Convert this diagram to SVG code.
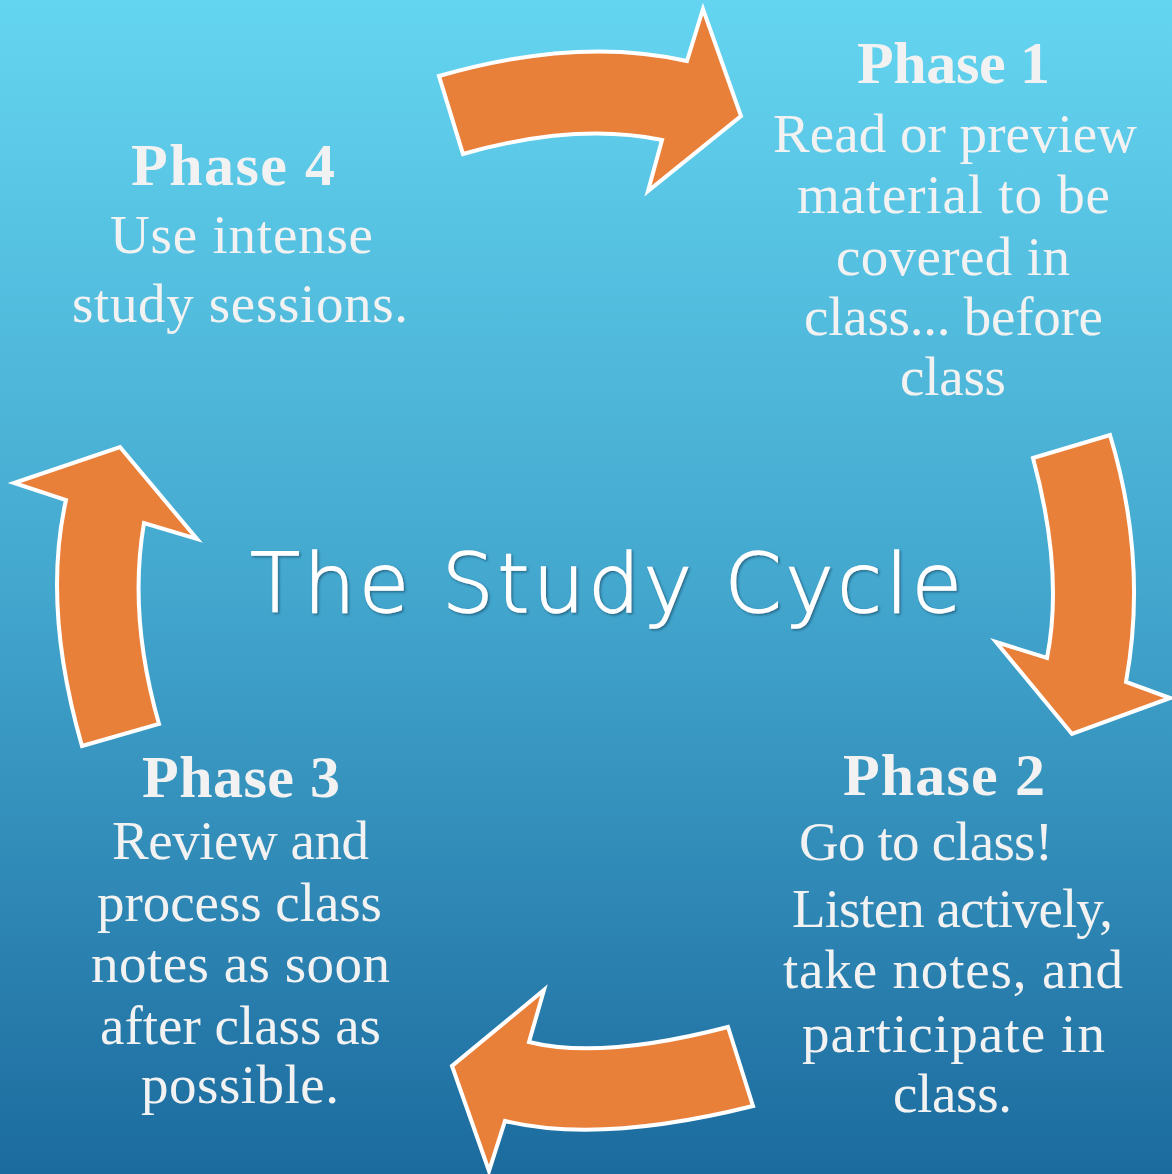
<svg xmlns="http://www.w3.org/2000/svg" width="1172" height="1174" viewBox="0 0 1172 1174">
<defs>
<linearGradient id="bg" x1="0" y1="0" x2="0" y2="1">
<stop offset="0" stop-color="#64d5f0"/>
<stop offset="0.5" stop-color="#43a7ce"/>
<stop offset="1" stop-color="#1c6b9e"/>
</linearGradient>
<filter id="sh" x="-5%" y="-20%" width="110%" height="140%">
<feDropShadow dx="1.5" dy="1.5" stdDeviation="1.2" flood-color="#0a3550" flood-opacity="0.55"/>
</filter>
<style>
.arrow{fill:#e8803a;stroke:#ffffff;stroke-width:4;stroke-linejoin:miter}
.head{font-family:"Liberation Serif","DejaVu Serif",serif;font-weight:bold;font-size:60px;fill:#f2f2f2}
.body{font-family:"Liberation Serif","DejaVu Serif",serif;font-size:55px;fill:#f2f2f2}
.title{font-family:"DejaVu Sans","Liberation Sans",sans-serif;font-weight:200;font-size:82px;fill:#ffffff;stroke:#ffffff;stroke-width:1.3}
</style>
</defs>
<rect width="1172" height="1174" fill="url(#bg)"/>
<g id="connectors">
<path class="arrow" d="M439,76 Q578,36 687,61 L703,9 L741,116 L648,191 L662,140 Q575,122 463,154 Z"/>
<path class="arrow" d="M1033,458 L1110,435 Q1148,561 1126,682 L1170,698 L1072,734 L996,642 L1047,658 Q1064,572 1033,458 Z"/>
<path class="arrow" d="M728,1027 L753,1106 Q601,1144 505,1121 L489,1171 L452,1066 L544,990 L529,1042 Q601,1060 728,1027 Z"/>
<path class="arrow" d="M82,746 L159,724 Q128,616 144,523 L197,539 L120,447 L14,483 L66,500 Q42,607 82,746 Z"/>
</g>
<g id="title">
<text class="title" x="250" y="612" textLength="712" lengthAdjust="spacing" filter="url(#sh)">The Study Cycle</text>
</g>
<g id="phase1">
<text class="head" x="857" y="83" textLength="193" lengthAdjust="spacing">Phase 1</text>
<text class="body" x="773" y="152" textLength="364" lengthAdjust="spacing">Read or preview</text>
<text class="body" x="797" y="213" textLength="313" lengthAdjust="spacing">material to be</text>
<text class="body" x="836" y="275" textLength="234" lengthAdjust="spacing">covered in</text>
<text class="body" x="804" y="335" textLength="299" lengthAdjust="spacing">class... before</text>
<text class="body" x="900" y="395" textLength="106" lengthAdjust="spacing">class</text>
</g>
<g id="phase2">
<text class="head" x="843" y="795" textLength="202" lengthAdjust="spacing">Phase 2</text>
<text class="body" x="799" y="860" textLength="254" lengthAdjust="spacing">Go to class!</text>
<text class="body" x="792" y="927" textLength="321" lengthAdjust="spacing">Listen actively,</text>
<text class="body" x="783" y="988" textLength="340" lengthAdjust="spacing">take notes, and</text>
<text class="body" x="802" y="1052" textLength="303" lengthAdjust="spacing">participate in</text>
<text class="body" x="893" y="1112" textLength="119" lengthAdjust="spacing">class.</text>
</g>
<g id="phase3">
<text class="head" x="142" y="797" textLength="198" lengthAdjust="spacing">Phase 3</text>
<text class="body" x="112" y="859" textLength="257" lengthAdjust="spacing">Review and</text>
<text class="body" x="97" y="921" textLength="285" lengthAdjust="spacing">process class</text>
<text class="body" x="91" y="982" textLength="299" lengthAdjust="spacing">notes as soon</text>
<text class="body" x="100" y="1044" textLength="281" lengthAdjust="spacing">after class as</text>
<text class="body" x="141" y="1103" textLength="198" lengthAdjust="spacing">possible.</text>
</g>
<g id="phase4">
<text class="head" x="131" y="185" textLength="204" lengthAdjust="spacing">Phase 4</text>
<text class="body" x="110" y="253" textLength="263" lengthAdjust="spacing">Use intense</text>
<text class="body" x="72" y="322" textLength="336" lengthAdjust="spacing">study sessions.</text>
</g>
</svg>
